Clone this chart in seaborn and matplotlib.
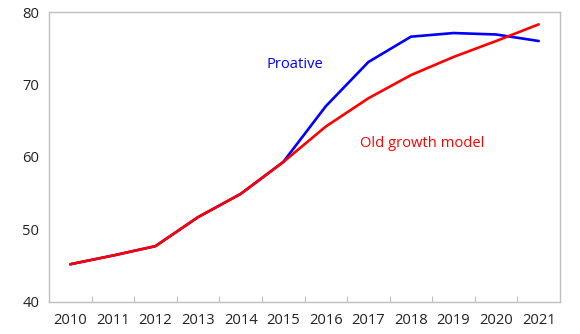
import matplotlib
matplotlib.use('Agg')

import matplotlib.pyplot as plt
import seaborn as sns
import pandas as pd
from matplotlib.ticker import FixedLocator

# Data
years = ['2010', '2011', '2012', '2013', '2014', '2015',
         '2016', '2017', '2018', '2019', '2020', '2021']
proactive = [45.2, 46.4, 47.7, 51.7, 54.9, 59.3, 67.0, 73.1, 76.6, 77.1, 76.9, 76.0]
old_growth = [45.2, 46.4, 47.7, 51.7, 54.9, 59.3, 64.2, 68.1, 71.3, 73.8, 76.0, 78.3]
y_ticks = [40, 50, 60, 70, 80]

sns.set_theme(style="white")
plt.rcParams['font.family'] = ['Open Sans', 'DejaVu Sans']

df = pd.DataFrame({'year': years, 'Proative': proactive, 'Old growth model': old_growth})

fig = plt.figure(figsize=(5.8, 3.34), dpi=100)
ax = fig.add_axes([0.0845, 0.096, 0.881, 0.868])

sns.lineplot(data=df, x='year', y='Proative', ax=ax, color='#0000FF', linewidth=1.9)
sns.lineplot(data=df, x='year', y='Old growth model', ax=ax, color='#FF0000', linewidth=1.9)

ax.set_xlim(-0.5, len(years) - 0.5)
ax.set_ylim(40, 80)
ax.set_yticks(y_ticks)
ax.set_xlabel('')
ax.set_ylabel('')

# category boundary tick marks pointing inward, labels centred
ax.xaxis.set_minor_locator(FixedLocator([i + 0.5 for i in range(len(years) - 1)]))
ax.tick_params(axis='x', which='minor', direction='in', length=4, width=0.8, color='#BFBFBF', bottom=True)
ax.tick_params(axis='x', which='major', length=0, pad=8, labelsize=10.6, labelcolor='#222222')
ax.tick_params(axis='y', length=0, pad=7, labelsize=10.6, labelcolor='#222222')

for s in ax.spines.values():
    s.set_color('#BFBFBF')
    s.set_linewidth(1.0)

ax.text(5.28, 72.7, 'Proative', color='#0000FF', fontsize=10.6, ha='center', va='center')
ax.text(8.26, 61.8, 'Old growth model', color='#FF0000', fontsize=10.6, ha='center', va='center')

plt.savefig('out.png', dpi=100)
plt.close(fig)
